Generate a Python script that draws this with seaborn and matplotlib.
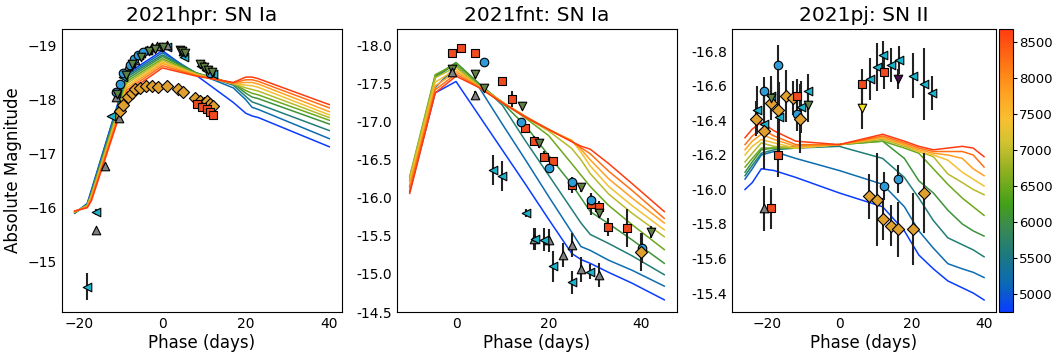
import numpy as np
import pandas as pd
import matplotlib
matplotlib.use("Agg")
import matplotlib.pyplot as plt
import seaborn as sns
from matplotlib.colors import LinearSegmentedColormap, Normalize
from matplotlib.cm import ScalarMappable

# ---------------- model temperatures ----------------
TEMPS = [4750, 5190, 5620, 6060, 6500, 6930, 7370, 7810, 8240, 8680]

# ---------------- 2021hpr model ----------------
HPR_MODEL_PHASE = [-21, -18, -17, -8.5, 0, 8, 17, 20, 21.5, 23, 40]
HPR_MODEL_MAG = [
    [-15.90, -16.08, -16.33, -18.48, -18.91, -18.46, -17.95, -17.75, -17.70, -17.67, -17.13],
    [-15.90, -16.07, -16.31, -18.45, -18.87, -18.50, -18.22, -18.00, -17.86, -17.82, -17.28],
    [-15.91, -16.06, -16.29, -18.42, -18.83, -18.50, -18.27, -18.06, -17.96, -17.92, -17.43],
    [-15.91, -16.05, -16.27, -18.38, -18.80, -18.50, -18.30, -18.12, -18.05, -18.02, -17.55],
    [-15.92, -16.05, -16.25, -18.34, -18.76, -18.49, -18.30, -18.17, -18.12, -18.09, -17.62],
    [-15.92, -16.04, -16.23, -18.30, -18.73, -18.48, -18.30, -18.22, -18.19, -18.16, -17.67],
    [-15.93, -16.03, -16.21, -18.26, -18.70, -18.47, -18.30, -18.27, -18.26, -18.23, -17.72],
    [-15.93, -16.02, -16.19, -18.22, -18.67, -18.46, -18.30, -18.32, -18.32, -18.29, -17.78],
    [-15.94, -16.01, -16.16, -18.18, -18.63, -18.45, -18.31, -18.37, -18.37, -18.34, -17.85],
    [-15.94, -16.00, -16.13, -18.13, -18.59, -18.44, -18.32, -18.42, -18.42, -18.39, -17.91],
]

# ---------------- 2021fnt model ----------------
FNT_MODEL_PHASE = [-10, -4.5, 0, 5, 10, 15, 20, 25, 27, 29, 33, 38, 45]
FNT_MODEL_MAG = [
    [-16.08, -17.38, -17.53, -17.08, -16.63, -16.18, -15.72, -15.27, -15.19, -15.14, -15.02, -14.88, -14.66],
    [-16.15, -17.45, -17.73, -17.45, -16.97, -16.50, -16.02, -15.55, -15.36, -15.31, -15.18, -15.05, -14.84],
    [-16.22, -17.58, -17.77, -17.50, -17.22, -16.75, -16.30, -15.85, -15.67, -15.52, -15.40, -15.24, -14.99],
    [-16.24, -17.60, -17.78, -17.50, -17.25, -16.95, -16.56, -16.18, -16.00, -15.82, -15.66, -15.45, -15.14],
    [-16.28, -17.62, -17.76, -17.48, -17.26, -17.05, -16.82, -16.45, -16.30, -16.15, -15.90, -15.65, -15.32],
    [-16.27, -17.58, -17.72, -17.47, -17.26, -17.06, -16.88, -16.65, -16.50, -16.32, -16.05, -15.80, -15.49],
    [-16.22, -17.52, -17.69, -17.46, -17.26, -17.07, -16.89, -16.76, -16.60, -16.42, -16.15, -15.90, -15.58],
    [-16.17, -17.47, -17.66, -17.46, -17.26, -17.07, -16.90, -16.75, -16.64, -16.50, -16.25, -16.00, -15.67],
    [-16.12, -17.42, -17.63, -17.45, -17.25, -17.07, -16.90, -16.74, -16.66, -16.58, -16.35, -16.10, -15.73],
    [-16.06, -17.38, -17.60, -17.45, -17.25, -17.06, -16.90, -16.74, -16.68, -16.64, -16.45, -16.19, -15.82],
]

# ---------------- 2021pj model ----------------
PJ_MODEL_PHASE = [-26, -24, -21.5, -18, -12, 0, 12, 18, 22, 26, 30, 34, 37, 40]
PJ_MODEL_MAG = [
    [-16.00, -16.04, -16.12, -16.11, -16.07, -15.98, -15.90, -15.76, -15.62, -15.54, -15.47, -15.43, -15.40, -15.36],
    [-16.06, -16.12, -16.20, -16.22, -16.18, -16.11, -16.03, -15.90, -15.76, -15.66, -15.57, -15.54, -15.52, -15.49],
    [-16.08, -16.14, -16.21, -16.23, -16.24, -16.25, -16.18, -16.07, -15.95, -15.82, -15.72, -15.68, -15.65, -15.61],
    [-16.10, -16.16, -16.23, -16.24, -16.25, -16.26, -16.28, -16.18, -16.05, -15.98, -15.88, -15.80, -15.76, -15.73],
    [-16.13, -16.18, -16.24, -16.24, -16.24, -16.26, -16.28, -16.24, -16.21, -16.12, -16.03, -15.95, -15.90, -15.85],
    [-16.16, -16.21, -16.27, -16.25, -16.24, -16.26, -16.29, -16.25, -16.22, -16.19, -16.09, -16.04, -16.00, -15.97],
    [-16.20, -16.25, -16.29, -16.27, -16.24, -16.26, -16.30, -16.26, -16.22, -16.20, -16.17, -16.10, -16.06, -16.02],
    [-16.23, -16.28, -16.32, -16.29, -16.25, -16.26, -16.30, -16.26, -16.23, -16.21, -16.20, -16.18, -16.12, -16.08],
    [-16.26, -16.31, -16.35, -16.31, -16.26, -16.26, -16.31, -16.27, -16.24, -16.22, -16.22, -16.22, -16.20, -16.13],
    [-16.30, -16.35, -16.39, -16.34, -16.28, -16.26, -16.32, -16.28, -16.25, -16.23, -16.24, -16.25, -16.24, -16.19],
]

# ---------------- photometry: 2021hpr ----------------
HPR_BAND = (["c"] * 14 + ["g"] * 12 + ["B"] * 8 + ["o"] * 14 + ["y"] * 18 + ["r"] * 5)
HPR_PHASE = [
    -18.0, -15.8, -12.4, -11.0, -9.5, -7.5, -5.5, -3.5, -1.0, 1.0, 5.2, 9.3, 10.5, 12.2,
    -15.8, -13.8, -10.5, -11.2, -8.2, -6.5, -5.0, -3.8, -2.5, -1.2, 1.0, 5.0,
    -11.2, -10.2, -9.4, -7.8, -6.8, -5.8, -4.6, 11.5,
    -10.8, -8.8, -7.2, -5.2, -3.2, -1.8, 0.2, 4.2, 4.8, 5.5, 9.0, 10.0, 11.0, 12.0,
    -10.2, -9.4, -8.2, -7.2, -6.6, -5.4, -3.9, -2.6, -1.0, 1.0, 3.8, 5.0, 7.8, 9.0, 10.0, 10.8, 11.4, 12.2,
    8.2, 9.4, 10.6, 11.4, 12.2,
]
HPR_MAG = [
    -14.54, -15.92, -17.70, -18.12, -18.42, -18.68, -18.83, -18.92, -18.98, -18.98, -18.80, -18.62, -18.56, -18.48,
    -15.59, -16.77, -17.66, -18.05, -18.62, -18.74, -18.86, -18.92, -18.97, -19.00, -19.01, -18.90,
    -18.15, -18.30, -18.49, -18.64, -18.76, -18.83, -18.88, -18.50,
    -18.10, -18.45, -18.66, -18.80, -18.90, -18.94, -18.97, -18.93, -18.90, -18.86, -18.66, -18.60, -18.55, -18.52,
    -17.80, -17.91, -18.06, -18.13, -18.19, -18.22, -18.26, -18.25, -18.24, -18.25, -18.19, -18.14, -18.03, -17.97, -17.94, -17.97, -17.92, -17.89,
    -17.93, -17.86, -17.82, -17.78, -17.72,
]
HPR_ERR = [
    0.25, 0.05, 0.04, 0.03, 0.03, 0.03, 0.03, 0.03, 0.03, 0.03, 0.03, 0.03, 0.03, 0.03,
    0.04, 0.04, 0.03, 0.03, 0.03, 0.03, 0.03, 0.03, 0.03, 0.03, 0.03, 0.03,
    0.03, 0.03, 0.03, 0.03, 0.03, 0.03, 0.03, 0.03,
    0.03, 0.03, 0.03, 0.03, 0.03, 0.03, 0.03, 0.03, 0.03, 0.03, 0.03, 0.03, 0.03, 0.03,
    0.03, 0.03, 0.03, 0.03, 0.03, 0.03, 0.03, 0.03, 0.03, 0.03, 0.03, 0.03, 0.03, 0.03, 0.03, 0.03, 0.03, 0.03,
    0.03, 0.03, 0.03, 0.03, 0.03,
]

# ---------------- photometry: 2021fnt ----------------
FNT_BAND = (["r"] * 14 + ["B"] * 6 + ["o"] * 8 + ["g"] * 8 + ["c"] * 8 + ["y"] * 1)
FNT_PHASE = [
    -0.8, 1.0, 4.1, 10.0, 12.1, 15.0, 16.9, 19.0, 21.0, 25.0, 29.1, 30.9, 32.9, 36.9,
    6.1, 14.0, 20.1, 25.0, 29.1, 40.1,
    -0.8, 4.1, 6.1, 14.2, 18.0, 27.0, 31.0, 42.1,
    -0.8, 4.1, 16.9, 20.1, 23.1, 25.0, 27.0, 30.9,
    8.1, 10.0, 15.1, 17.1, 19.0, 21.0, 25.0, 29.0,
    40.0,
]
FNT_MAG = [
    -17.91, -17.97, -17.91, -17.53, -17.30, -16.92, -16.75, -16.54, -16.48, -16.17, -15.92, -15.88, -15.62, -15.60,
    -17.79, -17.00, -16.39, -16.21, -15.97, -15.34,
    -17.69, -17.63, -17.44, -17.21, -16.72, -16.14, -15.80, -15.55,
    -17.66, -17.35, -15.46, -15.44, -15.25, -15.38, -15.06, -14.99,
    -16.37, -16.29, -15.80, -15.46, -15.45, -15.10, -14.89, -15.03,
    -15.29,
]
FNT_ERR = [
    0.05, 0.05, 0.05, 0.05, 0.10, 0.05, 0.06, 0.07, 0.05, 0.10, 0.14, 0.08, 0.12, 0.25,
    0.04, 0.05, 0.05, 0.07, 0.08, 0.20,
    0.05, 0.05, 0.05, 0.05, 0.06, 0.06, 0.06, 0.08,
    0.05, 0.05, 0.15, 0.15, 0.16, 0.16, 0.16, 0.16,
    0.20, 0.20, 0.05, 0.15, 0.15, 0.20, 0.15, 0.10,
    0.25,
]

# ---------------- photometry: 2021pj ----------------
PJ_BAND = (["c"] * 14 + ["B"] * 5 + ["y"] * 14 + ["r"] * 5 + ["g"] * 1 + ["o"] * 2 + ["Y"] * 1 + ["p"] * 1)
PJ_PHASE = [
    -22.6, -20.7, -18.9, -16.5, -10.6, -8.7, 8.5, 10.4, 12.1, 14.4, 16.4, 20.5, 23.4, 25.5,
    -20.9, -17.0, -11.7, 12.4, 16.3,
    -22.9, -20.9, -18.9, -17.0, -14.8, -12.8, -10.8, 8.2, 10.4, 12.2, 14.2, 16.3, 20.3, 23.4,
    -18.8, -17.0, -11.7, 6.3, 12.3,
    -20.9,
    -18.8, -8.7,
    6.3,
    16.2,
]
PJ_MAG = [
    -16.46, -16.38, -16.54, -16.42, -16.48, -16.57, -16.64, -16.71, -16.78, -16.72, -16.75, -16.66, -16.61, -16.56,
    -16.57, -16.72, -16.44, -16.02, -16.06,
    -16.41, -16.34, -16.50, -16.46, -16.54, -16.53, -16.41, -15.96, -15.94, -15.83, -15.79, -15.77, -15.77, -15.98,
    -15.89, -16.20, -16.54, -16.61, -16.68,
    -15.89,
    -16.53, -16.49,
    -16.47,
    -16.64,
]
PJ_ERR = [
    0.14, 0.16, 0.12, 0.20, 0.15, 0.10, 0.12, 0.14, 0.08, 0.10, 0.08, 0.13, 0.21, 0.10,
    0.08, 0.12, 0.10, 0.08, 0.08,
    0.10, 0.22, 0.10, 0.14, 0.15, 0.10, 0.20, 0.13, 0.27, 0.12, 0.12, 0.16, 0.21, 0.23,
    0.12, 0.13, 0.10, 0.09, 0.10,
    0.13,
    0.10, 0.10,
    0.12,
    0.06,
]

# ---------------- styles ----------------
BAND_STYLE = {
    "c": ("<", "#1ab3cc"),
    "B": ("o", "#2e9bd6"),
    "g": ("^", "#808080"),
    "o": ("v", "#5f7f45"),
    "y": ("D", "#e0a030"),
    "r": ("s", "#f04a20"),
    "Y": ("v", "#f5e020"),
    "p": ("v", "#4a0a4a"),
}
cmap = LinearSegmentedColormap.from_list("temp", [
    (0.00, "#0a3cff"), (0.10, "#0b6ab5"), (0.20, "#1c7a80"), (0.30, "#3a8a50"),
    (0.38, "#42a018"), (0.50, "#90b020"), (0.60, "#d2c232"), (0.68, "#f8c030"),
    (0.78, "#ffa020"), (0.88, "#ff7414"), (1.00, "#ff3c10"),
])
norm = Normalize(vmin=min(TEMPS), vmax=max(TEMPS))

plt.rcParams.update({
    "font.family": ["DejaVu Sans"],
    "xtick.labelsize": 10,
    "ytick.labelsize": 10,
    "xtick.major.size": 0,
    "ytick.major.size": 0,
    "xtick.major.pad": 3.5,
    "ytick.major.pad": 3.5,
})

fig = plt.figure(figsize=(10.53, 3.52), dpi=100)
ax1 = fig.add_axes([62 / 1053, 40 / 352, 280 / 1053, 283 / 352])
ax2 = fig.add_axes([397 / 1053, 40 / 352, 280 / 1053, 283 / 352])
ax3 = fig.add_axes([732 / 1053, 40 / 352, 264 / 1053, 283 / 352])
cax = fig.add_axes([999 / 1053, 40 / 352, 14 / 1053, 283 / 352])


def model_frame(phase, mags):
    rows = []
    for t, row in zip(TEMPS, mags):
        for p, m in zip(phase, row):
            rows.append((t, p, m))
    return pd.DataFrame(rows, columns=["temp", "phase", "mag"])


def draw(ax, mphase, mmag, band, phase, mag, err, title):
    df = model_frame(mphase, mmag)
    sns.lineplot(data=df, x="phase", y="mag", hue="temp", palette=cmap, hue_norm=norm,
                 estimator=None, sort=False, legend=False, lw=1.1, ax=ax, zorder=2)
    pts = pd.DataFrame({"band": band, "phase": phase, "mag": mag, "err": err})
    ax.errorbar(pts["phase"], pts["mag"], yerr=pts["err"], fmt="none",
                ecolor="#222222", elinewidth=1.5, zorder=3)
    for b, sub in pts.groupby("band", sort=False):
        mk, col = BAND_STYLE[b]
        sns.scatterplot(data=sub, x="phase", y="mag", marker=mk, color=col,
                        edgecolor="black", linewidth=0.8, s=38, ax=ax, zorder=4, legend=False)
    ax.set_title(title, fontsize=14.5)
    ax.set_xlabel("Phase (days)", fontsize=12, labelpad=2)
    ax.set_ylabel("")


draw(ax1, HPR_MODEL_PHASE, HPR_MODEL_MAG, HPR_BAND, HPR_PHASE, HPR_MAG, HPR_ERR, "2021hpr: SN Ia")
draw(ax2, FNT_MODEL_PHASE, FNT_MODEL_MAG, FNT_BAND, FNT_PHASE, FNT_MAG, FNT_ERR, "2021fnt: SN Ia")
draw(ax3, PJ_MODEL_PHASE, PJ_MODEL_MAG, PJ_BAND, PJ_PHASE, PJ_MAG, PJ_ERR, "2021pj: SN II")

ax1.set_ylabel("Absolute Magnitude", fontsize=12)
ax1.set_xlim(-24.05, 43.05)
ax1.set_ylim(-14.07, -19.31)
ax1.set_xticks([-20, 0, 20, 40])
ax1.set_yticks([-19, -18, -17, -16, -15])

ax2.set_xlim(-12.75, 47.75)
ax2.set_ylim(-14.5, -18.22)
ax2.set_xticks([0, 20, 40])
ax2.set_yticks([-18.0, -17.5, -17.0, -16.5, -16.0, -15.5, -15.0, -14.5])
ax2.yaxis.set_major_formatter(matplotlib.ticker.FormatStrFormatter("%.1f"))

ax3.set_xlim(-29.6, 43.3)
ax3.set_ylim(-15.29, -16.93)
ax3.set_xticks([-20, 0, 20, 40])
ax3.set_yticks([-16.8, -16.6, -16.4, -16.2, -16.0, -15.8, -15.6, -15.4])
ax3.yaxis.set_major_formatter(matplotlib.ticker.FormatStrFormatter("%.1f"))

cb = fig.colorbar(ScalarMappable(norm=norm, cmap=cmap), cax=cax)
cb.set_ticks([5000, 5500, 6000, 6500, 7000, 7500, 8000, 8500])
cax.tick_params(labelsize=9.5, length=3, pad=1.5)

fig.savefig("out.png", dpi=100)
